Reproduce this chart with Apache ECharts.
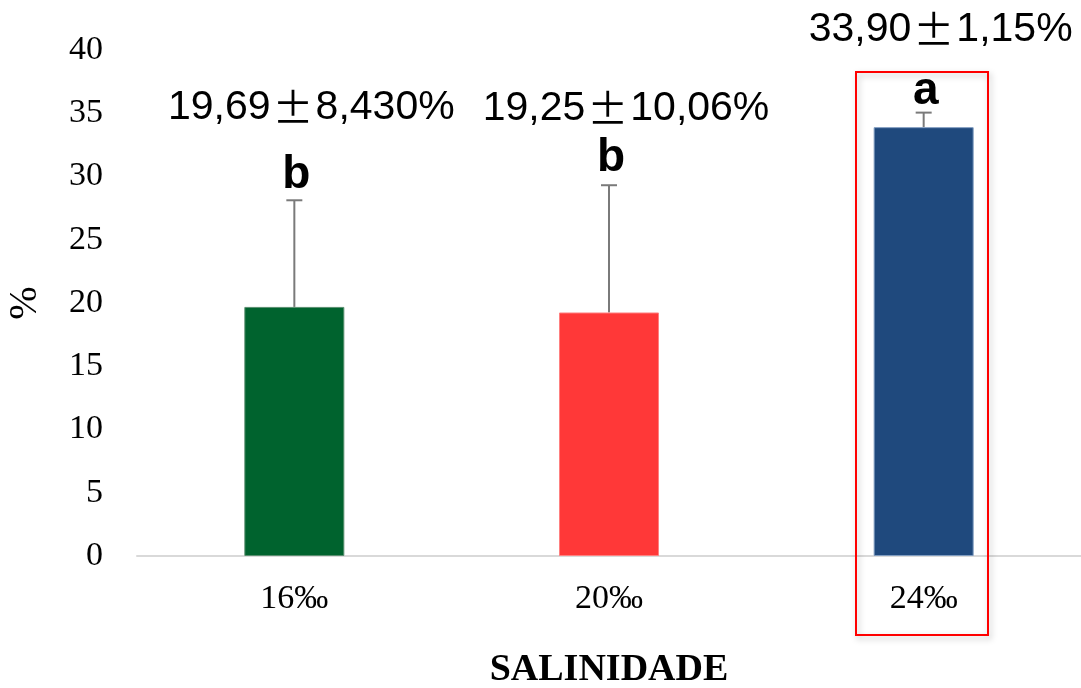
<!DOCTYPE html>
<html>
<head>
<meta charset="utf-8">
<script src="https://cdn.jsdelivr.net/npm/echarts@6/dist/echarts.min.js"></script>
<style>html,body{margin:0;padding:0;background:#fff}#c{width:1081px;height:688px}</style>
</head>
<body>
<div id="c"></div>
<script>
var categories = ['16‰', '20‰', '24‰'];
var means = [19.69, 19.25, 33.90];
var sds = [8.43, 10.06, 1.15];
var letters = ['b', 'b', 'a'];
var annotMean = ['19,69', '19,25', '33,90'];
var annotSd = ['8,430%', '10,06%', '1,15%'];
var barColors = ['#00632E', '#FF3838', '#1F497D'];
var barBorders = ['#5a8f70', '#ff8080', '#7f9cc0'];
var yTicks = [0, 5, 10, 15, 20, 25, 30, 35, 40];

var annotOffset = [-93, -77, -83];
var letterOffset = [-25, -27, -21];

var chart = echarts.init(document.getElementById('c'));
var serif = '"Liberation Serif", "DejaVu Serif", serif';
var sans = '"Liberation Sans", Arial, sans-serif';

chart.setOption({
  animation: false,
  grid: { left: 137, right: 0, top: 50, bottom: 132, outerBoundsMode: 'none', containLabel: false },
  xAxis: {
    type: 'category',
    data: categories,
    axisLine: { lineStyle: { color: '#d9d9d9', width: 2 } },
    axisTick: { show: false },
    axisLabel: { color: '#000', fontFamily: serif, fontSize: 34, margin: 26 },
    name: 'SALINIDADE',
    nameLocation: 'middle',
    nameGap: 95,
    nameMoveOverlap: false,
    nameTextStyle: { color: '#000', fontFamily: serif, fontSize: 38, fontWeight: 'bold' }
  },
  yAxis: {
    type: 'value',
    min: yTicks[0], max: yTicks[yTicks.length - 1], interval: 5,
    axisLine: { show: false },
    axisTick: { show: false },
    splitLine: { show: false },
    axisLabel: { color: '#000', fontFamily: serif, fontSize: 34, margin: 34 },
    name: '%',
    nameLocation: 'middle',
    nameGap: 92,
    nameRotate: 90,
    nameMoveOverlap: false,
    nameTextStyle: { color: '#000', fontFamily: serif, fontSize: 40 }
  },
  series: [
    {
      type: 'bar',
      barWidth: 100,
      data: means.map(function (v, i) {
        return { value: v, itemStyle: { color: barColors[i], borderColor: barBorders[i], borderWidth: 1 } };
      })
    },
    {
      type: 'custom',
      clip: false,
      data: means.map(function (v, i) { return [i, v, v + sds[i]]; }),
      renderItem: function (params, api) {
        var i = params.dataIndex;
        var base = api.coord([api.value(0), api.value(1)]);
        var top = api.coord([api.value(0), api.value(2)]);
        var x = base[0];
        return {
          type: 'group',
          children: [
            { type: 'line', shape: { x1: x, y1: base[1], x2: x, y2: top[1] }, style: { stroke: '#7a7a7a', lineWidth: 2 } },
            { type: 'line', shape: { x1: x - 8, y1: top[1], x2: x + 8, y2: top[1] }, style: { stroke: '#7a7a7a', lineWidth: 2 } },
            { type: 'text', x: x + 2, y: top[1] + letterOffset[i], style: { text: letters[i], fill: '#000', font: 'bold 46px ' + sans, align: 'center', verticalAlign: 'middle' } },
            { type: 'text', x: x + 17, y: top[1] + annotOffset[i], style: {
                text: '{a|' + annotMean[i] + '}{pm|±}{a|' + annotSd[i] + '}',
                align: 'center', verticalAlign: 'middle',
                rich: {
                  a: { fontFamily: sans, fontSize: 41, fill: '#000', color: '#000' },
                  pm: { fontFamily: '"Noto Sans CJK JP"', fontSize: 41, fill: '#000', color: '#000', padding: [0, 2] }
                }
              } }
          ]
        };
      }
    }
  ],
  graphic: [
    {
      type: 'rect',
      shape: { x: 856, y: 72, width: 132, height: 563 },
      style: { fill: 'none', stroke: '#ff0000', lineWidth: 2, shadowBlur: 6, shadowColor: 'rgba(0,0,0,0.25)', shadowOffsetX: 2, shadowOffsetY: 3 },
      z: 10
    }
  ]
});
</script>
</body>
</html>
